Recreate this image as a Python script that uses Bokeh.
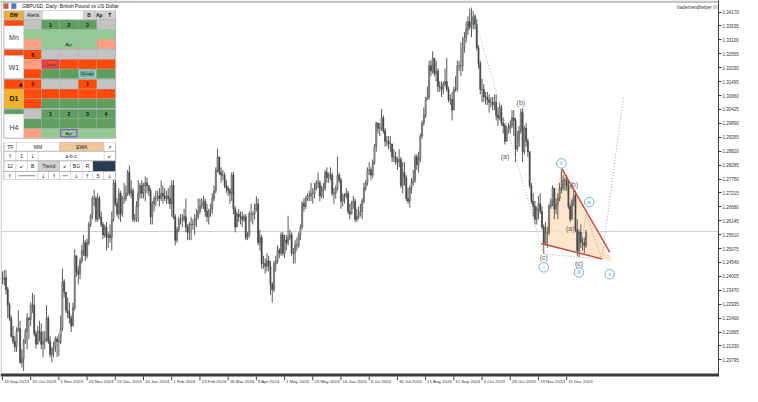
from bokeh.plotting import figure
from bokeh.models import (Range1d, LinearAxis, FixedTicker, PrintfTickFormatter,
                          ColumnDataSource, Label, Span)
from bokeh.core.properties import value
from bokeh.embed import file_html
from bokeh.resources import INLINE

# ---------------------------------------------------------------- data
chart_title = "GBPUSD, Daily:  British Pound vs US Dollar"
brand_text = "tradertrendhelper"

first_open = 1.2385   # open of the first bar (18 Sep 2023)

# daily closes, one row per week (18 Sep 2023 ... 27 Dec 2024)
closes = [
    1.2390, 1.2395, 1.2350, 1.2290, 1.2240,
    1.2170, 1.2150, 1.2130, 1.2190, 1.2200,
    1.2070, 1.2085, 1.2150, 1.2190, 1.2240,
    1.2235, 1.2290, 1.2290, 1.2180, 1.2140,
    1.2190, 1.2185, 1.2140, 1.2150, 1.2160,
    1.2240, 1.2150, 1.2100, 1.2120, 1.2130,
    1.2160, 1.2150, 1.2150, 1.2200, 1.2380,
    1.2340, 1.2270, 1.2260, 1.2240, 1.2210,
    1.2280, 1.2480, 1.2420, 1.2410, 1.2460,
    1.2500, 1.2530, 1.2480, 1.2530, 1.2600,
    1.2630, 1.2700, 1.2700, 1.2620, 1.2700,
    1.2630, 1.2600, 1.2560, 1.2590, 1.2550,
    1.2560, 1.2550, 1.2620, 1.2760, 1.2680,
    1.2640, 1.2720, 1.2640, 1.2700, 1.2700,
    1.2720, 1.2800, 1.2720, 1.2730,
    1.2620, 1.2620, 1.2670, 1.2720,
    1.2750, 1.2720, 1.2750, 1.2760, 1.2750,
    1.2730, 1.2630, 1.2680, 1.2700, 1.2700,
    1.2710, 1.2700, 1.2720, 1.2710, 1.2700,
    1.2710, 1.2700, 1.2680, 1.2750, 1.2630,
    1.2540, 1.2580, 1.2620, 1.2620, 1.2620,
    1.2630, 1.2590, 1.2570, 1.2600, 1.2600,
    1.2600, 1.2620, 1.2630, 1.2650, 1.2670,
    1.2680, 1.2690, 1.2650, 1.2630, 1.2650,
    1.2660, 1.2700, 1.2730, 1.2810, 1.2860,
    1.2800, 1.2790, 1.2790, 1.2750, 1.2740,
    1.2730, 1.2720, 1.2790, 1.2660, 1.2590,
    1.2640, 1.2630, 1.2630, 1.2620, 1.2630,
    1.2550, 1.2560, 1.2640, 1.2640, 1.2640,
    1.2660, 1.2680, 1.2530, 1.2550, 1.2450,
    1.2450, 1.2440, 1.2460, 1.2440, 1.2370,
    1.2350, 1.2450, 1.2460, 1.2500, 1.2490,
    1.2560, 1.2490, 1.2540, 1.2530, 1.2550,
    1.2560, 1.2490, 1.2490, 1.2520, 1.2520,
    1.2560, 1.2590, 1.2680, 1.2670, 1.2700,
    1.2710, 1.2710, 1.2720, 1.2720, 1.2740,
    1.2760, 1.2760, 1.2710, 1.2730, 1.2740,
    1.2800, 1.2780, 1.2790, 1.2790, 1.2720,
    1.2720, 1.2740, 1.2790, 1.2770, 1.2690,
    1.2710, 1.2710, 1.2720, 1.2650, 1.2640,
    1.2680, 1.2690, 1.2620, 1.2630, 1.2640,
    1.2650, 1.2690, 1.2740, 1.2760, 1.2810,
    1.2810, 1.2790, 1.2840, 1.2900, 1.2990,
    1.2970, 1.2970, 1.3010, 1.2960, 1.2920,
    1.2920, 1.2910, 1.2910, 1.2860, 1.2860,
    1.2840, 1.2840, 1.2850, 1.2750, 1.2800,
    1.2780, 1.2700, 1.2690, 1.2740, 1.2760,
    1.2770, 1.2860, 1.2830, 1.2850, 1.2940,
    1.2990, 1.3020, 1.3080, 1.3090, 1.3210,
    1.3190, 1.3240, 1.3180, 1.3190, 1.3130,
    1.3130, 1.3120, 1.3140, 1.3150, 1.3120,
    1.3080, 1.3080, 1.3040, 1.3120, 1.3120,
    1.3210, 1.3210, 1.3210, 1.3280, 1.3320,
    1.3350, 1.3380, 1.3360, 1.3370, 1.3400,
    1.3370, 1.3280, 1.3220, 1.3120, 1.3120,
    1.3090, 1.3090, 1.3080, 1.3070, 1.3070,
    1.3060, 1.3070, 1.3020, 1.3010, 1.3050,
    1.2990, 1.2980, 1.2920, 1.2960, 1.2970,
    1.2980, 1.3010, 1.3000, 1.2890, 1.2900,
    1.2960, 1.3030, 1.2880, 1.2970, 1.2920,
    1.2880, 1.2750, 1.2690, 1.2670, 1.2620,
    1.2660, 1.2680, 1.2650, 1.2590, 1.2530,
    1.2570, 1.2570, 1.2670, 1.2690, 1.2740,
    1.2660, 1.2680, 1.2700, 1.2740, 1.2740,
    1.2770, 1.2770, 1.2750, 1.2670, 1.2620,
    1.2690, 1.2710, 1.2580, 1.2500, 1.2570,
    1.2530, 1.2530, 1.2520, 1.2570,
]

highs = [
    1.2420, 1.2425, 1.2425, 1.2360, 1.2300,
    1.2250, 1.2210, 1.2170, 1.2205, 1.2270,
    1.2230, 1.2120, 1.2160, 1.2200, 1.2260,
    1.2245, 1.2300, 1.2337, 1.2330, 1.2190,
    1.2210, 1.2230, 1.2220, 1.2190, 1.2190,
    1.2290, 1.2250, 1.2170, 1.2130, 1.2150,
    1.2170, 1.2170, 1.2180, 1.2250, 1.2430,
    1.2390, 1.2340, 1.2320, 1.2300, 1.2250,
    1.2300, 1.2505, 1.2480, 1.2440, 1.2470,
    1.2520, 1.2560, 1.2540, 1.2545, 1.2610,
    1.2640, 1.2710, 1.2733, 1.2710, 1.2720,
    1.2710, 1.2650, 1.2610, 1.2600, 1.2610,
    1.2570, 1.2600, 1.2650, 1.2790, 1.2790,
    1.2700, 1.2740, 1.2730, 1.2710, 1.2760,
    1.2750, 1.2810, 1.2827, 1.2770,
    1.2740, 1.2640, 1.2690, 1.2770,
    1.2760, 1.2770, 1.2760, 1.2785, 1.2780,
    1.2750, 1.2740, 1.2690, 1.2710, 1.2730,
    1.2730, 1.2740, 1.2770, 1.2750, 1.2740,
    1.2730, 1.2740, 1.2750, 1.2770, 1.2770,
    1.2640, 1.2590, 1.2630, 1.2640, 1.2640,
    1.2660, 1.2700, 1.2600, 1.2610, 1.2630,
    1.2620, 1.2640, 1.2660, 1.2700, 1.2700,
    1.2700, 1.2710, 1.2700, 1.2680, 1.2660,
    1.2680, 1.2720, 1.2750, 1.2820, 1.2893,
    1.2860, 1.2820, 1.2810, 1.2800, 1.2770,
    1.2750, 1.2740, 1.2800, 1.2803, 1.2670,
    1.2650, 1.2660, 1.2650, 1.2650, 1.2640,
    1.2640, 1.2570, 1.2650, 1.2680, 1.2650,
    1.2680, 1.2710, 1.2700, 1.2580, 1.2560,
    1.2480, 1.2470, 1.2490, 1.2480, 1.2460,
    1.2380, 1.2460, 1.2480, 1.2520, 1.2510,
    1.2570, 1.2570, 1.2560, 1.2560, 1.2634,
    1.2580, 1.2570, 1.2510, 1.2540, 1.2550,
    1.2570, 1.2600, 1.2690, 1.2700, 1.2710,
    1.2720, 1.2730, 1.2760, 1.2740, 1.2760,
    1.2770, 1.2800, 1.2770, 1.2750, 1.2760,
    1.2810, 1.2820, 1.2800, 1.2820, 1.2800,
    1.2740, 1.2750, 1.2860, 1.2800, 1.2780,
    1.2720, 1.2720, 1.2740, 1.2730, 1.2680,
    1.2690, 1.2710, 1.2700, 1.2660, 1.2670,
    1.2680, 1.2700, 1.2760, 1.2770, 1.2820,
    1.2840, 1.2820, 1.2850, 1.2910, 1.2995,
    1.2990, 1.2990, 1.3044, 1.3020, 1.2970,
    1.2940, 1.2940, 1.2940, 1.2910, 1.2890,
    1.2880, 1.2860, 1.2890, 1.2860, 1.2840,
    1.2840, 1.2790, 1.2740, 1.2750, 1.2780,
    1.2810, 1.2870, 1.2870, 1.2880, 1.2950,
    1.3000, 1.3050, 1.3090, 1.3130, 1.3230,
    1.3230, 1.3266, 1.3240, 1.3230, 1.3200,
    1.3150, 1.3150, 1.3150, 1.3200, 1.3240,
    1.3130, 1.3100, 1.3110, 1.3130, 1.3170,
    1.3230, 1.3230, 1.3300, 1.3320, 1.3340,
    1.3380, 1.3400, 1.3430, 1.3434, 1.3420,
    1.3410, 1.3390, 1.3290, 1.3230, 1.3160,
    1.3140, 1.3110, 1.3110, 1.3100, 1.3090,
    1.3090, 1.3100, 1.3100, 1.3050, 1.3070,
    1.3060, 1.3010, 1.2990, 1.2980, 1.2990,
    1.3000, 1.3040, 1.3040, 1.3010, 1.2960,
    1.2980, 1.3045, 1.3047, 1.2980, 1.2990,
    1.2930, 1.2880, 1.2760, 1.2720, 1.2690,
    1.2670, 1.2710, 1.2720, 1.2670, 1.2600,
    1.2610, 1.2590, 1.2680, 1.2700, 1.2750,
    1.2740, 1.2700, 1.2720, 1.2760, 1.2811,
    1.2790, 1.2780, 1.2790, 1.2770, 1.2680,
    1.2700, 1.2730, 1.2730, 1.2620, 1.2580,
    1.2600, 1.2550, 1.2550, 1.2580,
]

lows = [
    1.2370, 1.2365, 1.2330, 1.2240, 1.2230,
    1.2165, 1.2140, 1.2110, 1.2110, 1.2190,
    1.2065, 1.2050, 1.2037, 1.2140, 1.2120,
    1.2160, 1.2210, 1.2260, 1.2170, 1.2123,
    1.2140, 1.2150, 1.2120, 1.2090, 1.2120,
    1.2150, 1.2140, 1.2090, 1.2070, 1.2090,
    1.2110, 1.2090, 1.2095, 1.2140, 1.2190,
    1.2320, 1.2260, 1.2240, 1.2220, 1.2187,
    1.2210, 1.2270, 1.2400, 1.2370, 1.2390,
    1.2450, 1.2480, 1.2460, 1.2470, 1.2520,
    1.2590, 1.2620, 1.2670, 1.2610, 1.2610,
    1.2620, 1.2590, 1.2545, 1.2550, 1.2500,
    1.2510, 1.2530, 1.2500, 1.2610, 1.2670,
    1.2630, 1.2620, 1.2610, 1.2630, 1.2680,
    1.2690, 1.2710, 1.2710, 1.2700,
    1.2610, 1.2610, 1.2610, 1.2610,
    1.2700, 1.2700, 1.2700, 1.2690, 1.2720,
    1.2710, 1.2600, 1.2600, 1.2650, 1.2670,
    1.2690, 1.2670, 1.2690, 1.2680, 1.2690,
    1.2680, 1.2680, 1.2660, 1.2630, 1.2620,
    1.2519, 1.2530, 1.2570, 1.2600, 1.2590,
    1.2610, 1.2570, 1.2540, 1.2540, 1.2540,
    1.2580, 1.2560, 1.2590, 1.2620, 1.2640,
    1.2660, 1.2660, 1.2630, 1.2610, 1.2600,
    1.2630, 1.2640, 1.2690, 1.2720, 1.2800,
    1.2790, 1.2760, 1.2770, 1.2740, 1.2720,
    1.2710, 1.2680, 1.2690, 1.2640, 1.2570,
    1.2590, 1.2610, 1.2600, 1.2590, 1.2610,
    1.2540, 1.2540, 1.2550, 1.2610, 1.2600,
    1.2620, 1.2650, 1.2520, 1.2500, 1.2430,
    1.2430, 1.2410, 1.2420, 1.2420, 1.2330,
    1.2300, 1.2340, 1.2420, 1.2450, 1.2470,
    1.2480, 1.2480, 1.2470, 1.2500, 1.2520,
    1.2540, 1.2480, 1.2450, 1.2450, 1.2500,
    1.2510, 1.2540, 1.2580, 1.2650, 1.2660,
    1.2690, 1.2690, 1.2690, 1.2680, 1.2700,
    1.2730, 1.2740, 1.2690, 1.2700, 1.2700,
    1.2730, 1.2760, 1.2760, 1.2770, 1.2710,
    1.2680, 1.2700, 1.2730, 1.2760, 1.2660,
    1.2670, 1.2680, 1.2700, 1.2640, 1.2620,
    1.2640, 1.2660, 1.2610, 1.2610, 1.2620,
    1.2630, 1.2620, 1.2680, 1.2730, 1.2750,
    1.2790, 1.2770, 1.2780, 1.2830, 1.2880,
    1.2950, 1.2940, 1.2960, 1.2950, 1.2900,
    1.2900, 1.2890, 1.2880, 1.2840, 1.2840,
    1.2830, 1.2810, 1.2820, 1.2740, 1.2720,
    1.2750, 1.2690, 1.2680, 1.2665, 1.2720,
    1.2750, 1.2760, 1.2810, 1.2800, 1.2840,
    1.2930, 1.2980, 1.3010, 1.3080, 1.3080,
    1.3170, 1.3180, 1.3170, 1.3150, 1.3110,
    1.3110, 1.3090, 1.3100, 1.3130, 1.3110,
    1.3070, 1.3060, 1.3000, 1.3040, 1.3110,
    1.3110, 1.3190, 1.3170, 1.3190, 1.3260,
    1.3300, 1.3330, 1.3350, 1.3320, 1.3350,
    1.3350, 1.3270, 1.3200, 1.3100, 1.3070,
    1.3070, 1.3060, 1.3060, 1.3030, 1.3050,
    1.3040, 1.3040, 1.3000, 1.2980, 1.3000,
    1.2980, 1.2950, 1.2908, 1.2920, 1.2950,
    1.2950, 1.2970, 1.2940, 1.2840, 1.2880,
    1.2920, 1.2950, 1.2840, 1.2870, 1.2900,
    1.2860, 1.2740, 1.2680, 1.2630, 1.2600,
    1.2600, 1.2620, 1.2640, 1.2580, 1.2487,
    1.2520, 1.2510, 1.2560, 1.2660, 1.2670,
    1.2620, 1.2640, 1.2620, 1.2690, 1.2720,
    1.2730, 1.2730, 1.2730, 1.2660, 1.2610,
    1.2620, 1.2670, 1.2570, 1.2480, 1.2475,
    1.2510, 1.2500, 1.2490, 1.2510,
]

# time-axis labels, one every 16 bars
date_labels = ["18 Sep 2023", "10 Oct 2023", "1 Nov 2023", "23 Nov 2023",
               "15 Dec 2023", "10 Jan 2024", "1 Feb 2024", "23 Feb 2024",
               "18 Mar 2024", "9 Apr 2024", "1 May 2024", "23 May 2024",
               "14 Jun 2024", "8 Jul 2024", "30 Jul 2024", "21 Aug 2024",
               "12 Sep 2024", "4 Oct 2024", "28 Oct 2024", "19 Nov 2024",
               "11 Dec 2024"]
date_step = 16

price_ticks = [1.20795, 1.21330, 1.21865, 1.22400, 1.22935, 1.23470, 1.24005,
               1.24540, 1.25075, 1.25610, 1.26145, 1.26680, 1.27215, 1.27750,
               1.28285, 1.28820, 1.29355, 1.29890, 1.30425, 1.30960, 1.31495,
               1.32030, 1.32565, 1.33100, 1.33635, 1.34170]
current_price = 1.25730

# Elliott-wave labels anchored on bars
wave_text = ["(a)", "(b)", "(c)", "(a)", "(b)", "(c)"]
wave_bar = [285, 294, 307, 322, 324, 327]
wave_side = ["low", "high", "low", "low", "high", "low"]
degree_text = ["i", "ii", "iii"]
degree_bar = [307, 317, 327]
degree_side = ["low", "high", "low"]
peak_bar = 266
# projected path (bar index, price): iv, v, target
proj_index = [331.1, 340.0, 352.2]
proj_price = [1.2638, 1.2467, 1.3092]
proj_label_text = ["iv", "v"]
proj_label_index = [332.8, 344.4]
proj_label_price = [1.2686, 1.2409]
# contracting triangle
tri_upper_index = [317.2, 344.4]
tri_upper_price = [1.2815, 1.2494]
tri_lower_index = [305.6, 340.0]
tri_lower_price = [1.2527, 1.2468]
tri_fill_index = [305.6, 317.4, 346.1]
tri_fill_price = [1.2527, 1.2822, 1.2457]

n = len(closes)
if not (n == len(highs) == len(lows) == 332):
    raise ValueError(f"bar count mismatch {n} {len(highs)} {len(lows)}")

# ---------------------------------------------------------------- layout
REF_W, REF_H = 733, 402          # reference frame size in pixels
Y0, Y1 = 1.197724, 1.346130      # price at bottom / top of the frame
PPX = (Y1 - Y0) / REF_H          # price per reference pixel
BAR_PX = 1.8                     # reference pixels per bar
X0 = -2 / BAR_PX
X1 = (REF_W - 2) / BAR_PX

FONT = value("Liberation Sans")
SYM = value("DejaVu Sans")
PX = dict(x_range_name="px", y_range_name="py")

p = figure(frame_width=718, frame_height=386,
           x_range=Range1d(X0, X1), y_range=Range1d(Y0, Y1),
           x_axis_location=None, y_axis_location=None,
           output_backend="svg", toolbar_location=None,
           min_border=0, min_border_right=24)
p.min_border_left = 0
p.min_border_top = 0
p.min_border_bottom = 0
p.outline_line_color = None
p.background_fill_color = "white"
p.border_fill_color = "white"
p.xgrid.visible = False
p.ygrid.visible = False
p.extra_x_ranges = {"px": Range1d(0, REF_W)}
p.extra_y_ranges = {"py": Range1d(REF_H, 0)}

# price axis on the right
ax = LinearAxis(ticker=FixedTicker(ticks=price_ticks),
                formatter=PrintfTickFormatter(format="%.5f"))
ax.bounds = (Y1 - 392 * PPX, Y1)
ax.axis_line_color = "#404040"
ax.major_tick_line_color = "#404040"
ax.major_tick_out = 3
ax.major_tick_in = 0
ax.minor_tick_line_color = None
ax.major_label_standoff = 1
ax.major_label_text_font = "Liberation Sans"
ax.major_label_text_font_size = "4.5px"
ax.major_label_text_color = "#333333"
p.add_layout(ax, "right")

# current price line
p.add_layout(Span(location=current_price, dimension="width",
                  line_color="#cfcfcf", line_width=1, level="underlay"))

# triangle fill (behind the candles)
p.patch(tri_fill_index, tri_fill_price, fill_color="#fde2c2", fill_alpha=0.85,
        line_color=None)

# candles
idx = list(range(n))
opens = [first_open] + closes[:-1]
top = [max(o, c) for o, c in zip(opens, closes)]
bot = [min(o, c) for o, c in zip(opens, closes)]
fill = ["#b0b0b0" if c >= o else "#484848" for o, c in zip(opens, closes)]
src = ColumnDataSource(dict(x=idx, h=highs, l=lows, top=top, bot=bot, fill=fill))
p.segment(x0="x", y0="l", x1="x", y1="h", source=src,
          line_color="#5a5a5a", line_width=1)
p.vbar(x="x", width=0.66, top="top", bottom="bot", source=src,
       fill_color="fill", line_color="#404040", line_width=0.5)

# wave lines
p.line([peak_bar, wave_bar[2]], [highs[peak_bar], lows[wave_bar[2]]],
       line_color="#8cc3d6", line_dash="1 2", line_width=1)
p.line([wave_bar[2], proj_index[1]], [lows[wave_bar[2]], proj_price[1]],
       line_color="#9a9a9a", line_dash="1 2", line_width=1)
p.line([degree_bar[2]] + proj_index, [lows[degree_bar[2]]] + proj_price,
       line_color="#9a9a9a", line_dash="1 2", line_width=1)
p.line(tri_upper_index, tri_upper_price, line_color="#c4493c", line_width=1.4)
p.line(tri_lower_index, tri_lower_price, line_color="#c4493c", line_width=1.4)

# degree circles
cx, cy = [], []
for b, side, g in zip(degree_bar, degree_side, [14, 6.5, 16]):
    cx.append(b)
    cy.append(lows[b] - g * PPX if side == "low" else highs[b] + g * PPX)
cx += proj_label_index
cy += proj_label_price
ctext = degree_text + proj_label_text
p.scatter(cx, cy, marker="circle", size=9.5, fill_color="white",
          line_color="#6fb4dc", line_width=1)
p.text(cx, cy, ctext, text_font=FONT, text_font_size="5px",
       text_color="#3f97cf", text_align="center", text_baseline="middle")

# wave labels
wx, wy = [], []
for k, (b, side) in enumerate(zip(wave_bar, wave_side)):
    g = [13, 6.5, 4, 6.5, 6, 7][k]
    wx.append(b)
    wy.append(lows[b] - g * PPX if side == "low" else highs[b] + g * PPX)
p.text(wx, wy, wave_text, text_font=FONT, text_font_size="7px",
       text_color="#5c5c5c", text_align="center", text_baseline="middle")

# time axis drawn along the bottom
p.quad(left=[0], right=[REF_W], top=[388.5], bottom=[391.5], fill_color="#3a3a3a",
       line_color=None, **PX)
p.quad(left=[0], right=[1.5], top=[0], bottom=[388.5], fill_color="#d0d0d0",
       line_color=None, **PX)
tick_idx = [k * date_step for k in range(len(date_labels))]
p.segment(x0=tick_idx, y0=[391.5] * len(tick_idx), x1=tick_idx,
          y1=[395.5] * len(tick_idx), line_color="#404040", line_width=1,
          y_range_name="py")
p.text(tick_idx, [396.5] * len(tick_idx), date_labels, x_offset=1.5,
       text_font=FONT, text_font_size="4.4px", text_color="#333333",
       text_align="left", text_baseline="middle", y_range_name="py")

# price tag on the axis
p.add_layout(Label(x=REF_W + 1, y=current_price, x_range_name="px",
                   text=f"{current_price:.5f}", text_font="Liberation Sans",
                   text_font_size="4.5px", text_color="#ffffff",
                   text_baseline="middle", background_fill_color="#c4c4c4"))

# top strip, title, brand
p.quad(left=[0], right=[REF_W], top=[0], bottom=[2.5], fill_color="#c4c4c4",
       line_color=None, **PX)
p.quad(left=[3, 11], right=[8, 16], top=[3, 3], bottom=[8.5, 8.5],
       fill_color=["#d9534f", "#4a78c8"], line_color="#888888", line_width=0.5, **PX)
p.text([22], [5.8], [chart_title], text_font=FONT, text_font_size="5px",
       text_color="#111111", text_align="left", text_baseline="middle", **PX)
p.text([726], [7], [brand_text], text_font=FONT, text_font_size="4.5px",
       text_color="#333333", text_align="right", text_baseline="middle", **PX)
p.quad(left=[727.5], right=[732], top=[4.5], bottom=[9], fill_color="#cfcfcf",
       line_color=None, **PX)

# ---------------------------------------------------------------- panel
G, LG, OR, SA, GR, WH = "#5e9e5e", "#93c993", "#ff4a0a", "#ff9f80", "#c3c3c3", "#ffffff"
cols = [(24.0, 41.5), (42.0, 60.0), (60.5, 79.0), (79.5, 98.0), (98.5, 117.0)]
sections = [
    ("Mn", 20.5, OR, WH, [[GR, G, G, G, GR], [LG] * 5, [SA, LG, LG, LG, SA]],
     [["", "1", "2", "3", ""], [""] * 5, ["", "", "Agr", "", ""]]),
    ("W1", 51.5, OR, WH, [[OR, GR, GR, GR, GR], [SA, OR, OR, OR, OR], [OR, G, G, G, G]],
     [["8", "", "", "", ""], ["", "Cross", "", "", ""], ["", "", "", "Disagr", ""]]),
    ("D1", 82.5, OR, "#f2b32a", [[OR, GR, GR, OR, GR], [OR] * 5, [OR, G, G, G, G]],
     [["5", "", "", "1", ""], [""] * 5, [""] * 5]),
    ("H4", 113.5, G, WH, [[GR, G, G, G, G], [G] * 5, [SA, LG, LG, LG, LG]],
     [["", "1", "2", "3", "4"], [""] * 5, ["", "", "Agr", "", ""]]),
]
ql, qr, qt, qb, qc = [], [], [], [], []
def box(l, r, t, b, c):
    ql.append(l); qr.append(r); qt.append(t); qb.append(b); qc.append(c)

texts = {}
def txt(x, y, s, size="5px", style="normal", color="#111111", font="sans"):
    key = (size, style, color, font)
    texts.setdefault(key, ([], [], []))
    texts[key][0].append(x); texts[key][1].append(y); texts[key][2].append(s)

box(3, 118, 10.5, 144, "#b4b4b4")
header = [(4, 23.5, "BW", "#e9ad48", "bold"), (24, 42.5, "Alerts", "#d2d2d2", "normal"),
          (43, 84.5, "", WH, "normal"), (85, 95.5, "B", "#d2d2d2", "bold"),
          (96, 105.5, "Ap", "#d2d2d2", "bold"), (106, 117, "T", "#d2d2d2", "bold")]
for l, r, s, c, st in header:
    box(l, r, 11, 19.5, c)
    if s:
        txt((l + r) / 2, 15.5, s, "4.8px", st)

borders = []
for name, t0, strip, lab, colors, cells in sections:
    if name == "D1":
        box(4, 23.5, t0, t0 + 9.5, strip)
        box(4, 23.5, t0 + 10, t0 + 29.5, lab)
        txt(20.5, t0 + 4.5, "\u25b2", "5px", "normal", "#111111", "sym")
        txt(13.75, t0 + 19.5, name, "7px", "bold")
    else:
        sh = 4.5 if name == "H4" else 5.5
        box(4, 23.5, t0, t0 + sh, strip)
        box(4, 23.5, t0 + sh + 0.5, t0 + 29.5, lab)
        txt(13.75, t0 + 18.5, name, "7px", "normal", "#333333")
    for r in range(3):
        t = t0 + 10 * r
        for cidx, (l, rr) in enumerate(cols):
            box(l, rr, t, t + 9.5, colors[r][cidx])
            s = cells[r][cidx]
            if s in ("Cross", "Disagr", "Agr"):
                if not (name == "Mn"):
                    borders.append((l + 1, rr - 1, t + 1, t + 8.5,
                                    {"Cross": "#b030c8", "Disagr": "#8fe0e0",
                                     "Agr": "#8a3cc8"}[s],
                                    {"Cross": OR, "Disagr": "#78a89e", "Agr": LG}[s]))
                txt((l + rr) / 2, t + 4.9, s, "4.3px", "normal", "#222222")
            elif s:
                txt((l + rr) / 2, t + 4.9, s, "5.2px", "bold")

# lower panel
box(3, 118, 147.5, 187, "#b4b4b4")
lower_rows = [
    (148, 156.5, [(4, 16, "TF", WH), (16.5, 60, "MM", WH), (60.5, 105.5, "EWA", "#f2c89a"),
                  (106, 117, "\u2197", WH)]),
    (157.5, 166.5, [(4, 15.5, "\u2191", WH), (16, 27, "1", WH), (27.5, 38, "\u2193", WH),
                    (38.5, 105.5, "a-b-c", WH), (106, 117, "\u2199", WH)]),
    (167.5, 177.5, [(4, 15.5, "12", WH), (16, 27, "\u2199", WH), (27.5, 38, "B", WH),
                    (38.5, 60, "Trend", "#d0d0d0"), (60.5, 71.5, "\u2199", WH),
                    (72, 83, "BG", WH), (83.5, 94, "R", WH), (94.5, 117, "", "#2a3a50")]),
    (178.5, 186.5, [(4, 15, "\u2191", WH), (15.5, 38, "-", WH), (38.5, 49, "\u2193", WH),
                    (49.5, 60, "\u2191", WH), (60.5, 71.5, "-", WH), (72, 83, "\u2193", WH),
                    (83.5, 94, "\u2191", WH), (94.5, 105, "5", WH), (105.5, 117, "\u2193", WH)]),
]
dash_x0, dash_x1, dash_y = [], [], []
for t, b, row in lower_rows:
    for l, r, s, c in row:
        box(l, r, t, b, c)
        if s == "-":
            dash_x0.append(l + 2.5); dash_x1.append(r - 2.5); dash_y.append((t + b) / 2)
        elif s:
            sym = s in ("\u2191", "\u2193", "\u2197", "\u2199")
            txt((l + r) / 2, (t + b) / 2 + 0.3, s, "5px", "normal",
                "#222222", "sym" if sym else "sans")

p.quad(left=ql, right=qr, top=qt, bottom=qb, fill_color=qc, line_color=None, **PX)
if borders:
    p.quad(left=[q[0] for q in borders], right=[q[1] for q in borders],
           top=[q[2] for q in borders], bottom=[q[3] for q in borders],
           fill_color=[q[5] for q in borders], line_color=[q[4] for q in borders],
           line_width=1, **PX)
p.segment(x0=dash_x0, y0=dash_y, x1=dash_x1, y1=dash_y, line_color="#8a8a8a",
          line_width=1, **PX)
for (size, style, color, font), (xs, ys, ss) in texts.items():
    p.text(xs, ys, ss, text_font=SYM if font == "sym" else FONT,
           text_font_size=size, text_font_style=style, text_color=color,
           text_align="center", text_baseline="middle", **PX)

open("out.html", "w").write(file_html(p, INLINE))
